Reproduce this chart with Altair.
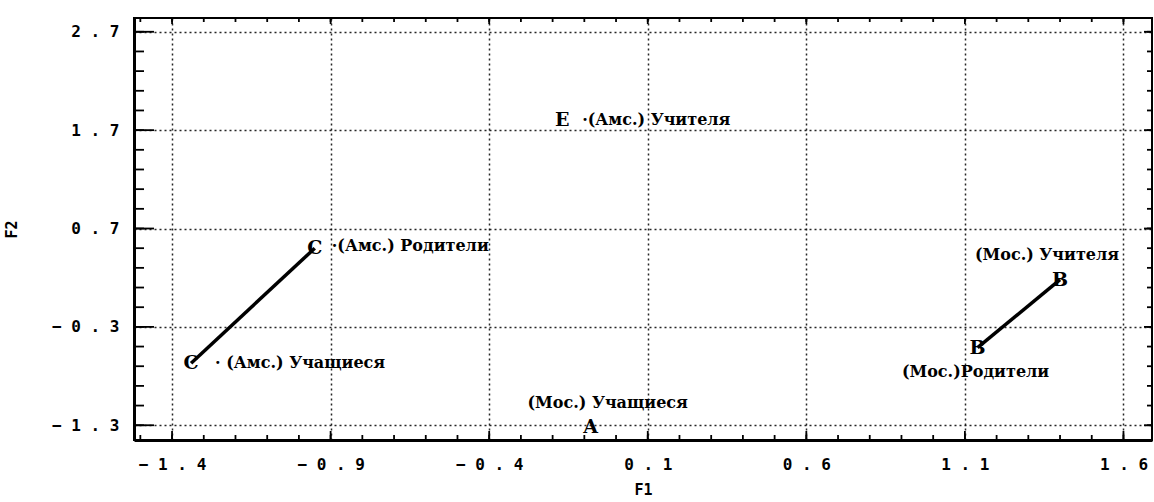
import altair as alt
import pandas as pd

# Correspondence-analysis map: groups (Амс. / Мос.) by role on factors F1, F2
markers = ["C", "C", "E", "A", "B", "B"]
labels = [
    "·(Амс.) Родители",
    "· (Амс.) Учащиеся",
    "·(Амс.) Учителя",
    "(Мос.) Учащиеся",
    "(Мос.) Учителя",
    "(Мос.)Родители",
]
f1 = [-0.95, -1.34, -0.17, -0.08, 1.40, 1.14]
f2 = [0.50, -0.67, 1.80, -1.32, 0.18, -0.51]
pair = ["C", "C", "", "", "B", "B"]

x_major = [-1.4, -0.9, -0.4, 0.1, 0.6, 1.1, 1.6]
y_major = [-1.3, -0.3, 0.7, 1.7, 2.7]
x_minor = [round(-1.5 + 0.1 * i, 1) for i in range(32)]
y_minor = [round(-1.3 + 0.2 * i, 1) for i in range(21)]

W, H = 1018, 422

points = pd.DataFrame(
    {"F1": f1, "F2": f2, "marker": markers, "label": labels, "pair": pair}
)

# label placement: (align, dx, dy) for each point, in drawing order
label_style = [
    ("left", 17, -2),
    ("left", 24, 0),
    ("left", 20, 0),
    ("center", 17, -24),
    ("center", -13, -25),
    ("center", -2, 24),
]

xs = alt.Scale(domain=[-1.52, 1.69], nice=False, zero=False)
ys = alt.Scale(domain=[-1.45, 2.84], nice=False, zero=False)

spaced = "join(split(format(datum.value, '.1f'), ''), ' ')"
label_font = "DejaVu Sans Mono"

xaxis = alt.Axis(
    values=x_major, title="F1", grid=True, ticks=False,
    gridDash=[2, 3], gridColor="black", gridWidth=1.5, gridOpacity=0.85,
    domainColor="black", domainWidth=3,
    labelExpr=spaced, labelFont=label_font, labelFontWeight="bold",
    labelFontSize=16, labelColor="black", labelPadding=16,
    titleFont=label_font, titleFontWeight="bold", titleFontSize=15,
    titleColor="black", titlePadding=10,
)
yaxis = alt.Axis(
    values=y_major, title="F2", grid=True, ticks=False,
    gridDash=[2, 3], gridColor="black", gridWidth=1.5, gridOpacity=0.85,
    domainColor="black", domainWidth=3,
    labelExpr=spaced, labelFont=label_font, labelFontWeight="bold",
    labelFontSize=16, labelColor="black", labelPadding=15,
    titleFont=label_font, titleFontWeight="bold", titleFontSize=15,
    titleColor="black", titlePadding=32,
)


def tick_layer(values, side, length):
    df = pd.DataFrame({"v": values})
    if side == "bottom":
        enc = dict(x=alt.X("v:Q", scale=xs, axis=xaxis),
                   y=alt.value(H), y2=alt.value(H - length))
    elif side == "top":
        enc = dict(x=alt.X("v:Q", scale=xs, axis=xaxis),
                   y=alt.value(0), y2=alt.value(length))
    elif side == "left":
        enc = dict(y=alt.Y("v:Q", scale=ys, axis=yaxis),
                   x=alt.value(0), x2=alt.value(length))
    else:
        enc = dict(y=alt.Y("v:Q", scale=ys, axis=yaxis),
                   x=alt.value(W), x2=alt.value(W - length))
    return alt.Chart(df).mark_rule(color="black", strokeWidth=1.8).encode(**enc)


ticks = [
    tick_layer(x_minor, "bottom", 5), tick_layer(x_major, "bottom", 9),
    tick_layer(x_minor, "top", 4), tick_layer(x_major, "top", 6),
    tick_layer(y_minor, "left", 10), tick_layer(y_major, "left", 20),
    tick_layer(y_minor, "right", 5), tick_layer(y_major, "right", 8),
]

enc_xy = dict(
    x=alt.X("F1:Q", scale=xs, axis=xaxis),
    y=alt.Y("F2:Q", scale=ys, axis=yaxis),
)

links = (
    alt.Chart(points)
    .transform_filter("datum.pair != ''")
    .mark_line(color="black", strokeWidth=3.5)
    .encode(detail="pair:N", **enc_xy)
)

letters = (
    alt.Chart(points)
    .mark_text(font="DejaVu Serif", fontWeight="bold", fontSize=19,
               color="black", baseline="middle", align="center")
    .encode(text="marker:N", **enc_xy)
)

texts = []
for i, (align, dx, dy) in enumerate(label_style):
    texts.append(
        alt.Chart(points)
        .transform_filter(alt.datum.label == labels[i])
        .mark_text(font="DejaVu Serif", fontWeight="bold", fontSize=16,
                   color="black", baseline="middle", align=align, dx=dx, dy=dy)
        .encode(text="label:N", **enc_xy)
    )

chart = (
    alt.layer(*ticks, links, letters, *texts)
    .properties(
        width=W, height=H,
        autosize=alt.AutoSizeParams(type="none"),
        padding={"left": 134, "top": 18, "right": 2, "bottom": 62},
        background="white",
    )
    .configure_view(stroke="black", strokeWidth=2)
)

chart.save("out.html", embed_options={"renderer": "svg", "actions": False})
